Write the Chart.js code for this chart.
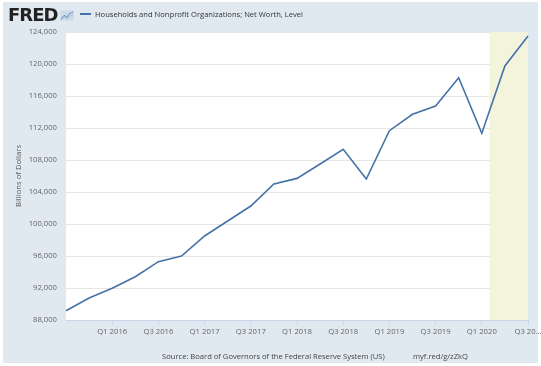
<!DOCTYPE html>
<html>
<head>
<meta charset="utf-8">
<script src="https://cdn.jsdelivr.net/npm/chart.js@4.4.1/dist/chart.umd.min.js"></script>
<style>
  html, body { margin: 0; padding: 0; background: #fff; }
  #wrap {
    position: relative; width: 541px; height: 366px; overflow: hidden;
    font-family: "Open Sans", "DejaVu Sans", sans-serif;
  }
  #frame {
    position: absolute; left: 3px; top: 2px; width: 535px; height: 361px;
    background: #e1e9f0;
  }
  #chart { position: absolute; left: 0; top: 0; }
  #logo {
    position: absolute; left: 8px; top: 4px; font-size: 18px; font-weight: 800;
    color: #222; letter-spacing: -1px; font-family: "DejaVu Sans", sans-serif;
  }
  #icon { position: absolute; left: 60px; top: 10px; }
  #legend {
    position: absolute; left: 80px; top: 9px; font-size: 7.6px; color: #333;
    white-space: nowrap;
  }
  #legend span.swatch {
    display: inline-block; width: 11px; height: 2px; background: #4572a7;
    vertical-align: middle; margin-right: 4px; position: relative; top: -1px;
  }
  #source {
    position: absolute; left: 162px; top: 351px; font-size: 7.6px; color: #444;
    white-space: nowrap;
  }
  #link {
    position: absolute; left: 413px; top: 351px; font-size: 7.6px; color: #444;
  }
</style>
</head>
<body>
<div id="wrap">
  <div id="frame"></div>
  <canvas id="chart" width="541" height="366"></canvas>
  <div id="logo">FRED</div>
  <svg id="icon" width="14" height="11" viewBox="0 0 16 12">
    <rect x="0" y="0" width="16" height="12" fill="#cfdbe7"/>
    <polyline points="1,10 5,6 8,8 11,4 15,2" fill="none" stroke="#7a9cc2" stroke-width="1.2"/>
    <polyline points="1,11 5,8 8,10 11,7 15,5" fill="none" stroke="#a9bfd6" stroke-width="1"/>
  </svg>
  <div id="legend"><span class="swatch"></span>Households and Nonprofit Organizations; Net Worth, Level</div>
  <div id="source">Source: Board of Governors of the Federal Reserve System (US)</div>
  <div id="link">myf.red/g/zZkQ</div>
</div>

<script>
// quarterly observations, billions of dollars
const quarters = [
  "Q3 2015", "Q4 2015",
  "Q1 2016", "Q2 2016", "Q3 2016", "Q4 2016",
  "Q1 2017", "Q2 2017", "Q3 2017", "Q4 2017",
  "Q1 2018", "Q2 2018", "Q3 2018", "Q4 2018",
  "Q1 2019", "Q2 2019", "Q3 2019", "Q4 2019",
  "Q1 2020", "Q2 2020", "Q3 2020"
];
const netWorth = [
  89160, 90750,
  91960, 93410, 95290, 96000,
  98500, 100380, 102250, 105000,
  105700, 107500, 109330, 105620,
  111660, 113710, 114750, 118290,
  111340, 119750, 123500
];
const shownTicks = [
  "Q1 2016", "Q3 2016", "Q1 2017", "Q3 2017", "Q1 2018", "Q3 2018",
  "Q1 2019", "Q3 2019", "Q1 2020", "Q3 2020"
];
const yTicks = [88000, 92000, 96000, 100000, 104000, 108000, 112000, 116000, 120000, 124000];

// recession: starts Feb 2020 (one third into Q1 2020), runs past the last observation
const recessionStart = quarters.indexOf("Q1 2020") + 1 / 3;

const lineColor = "#4572a7";
const tickFont = { family: "'Open Sans', sans-serif", size: 7.7 };

// shaded recession band behind the line
const recessionPlugin = {
  id: "recession",
  beforeDatasetsDraw(chart) {
    const { ctx, chartArea, scales } = chart;
    const x = scales.x;
    const i = Math.floor(recessionStart);
    const x0 = x.getPixelForValue(i) + (x.getPixelForValue(i + 1) - x.getPixelForValue(i)) * (recessionStart - i);
    ctx.save();
    ctx.fillStyle = "#f4f4dc";
    ctx.fillRect(x0, chartArea.top, chartArea.right - x0, chartArea.bottom - chartArea.top);
    ctx.restore();
  }
};

// white plot background
const plotBg = {
  id: "plotBg",
  beforeDraw(chart) {
    const { ctx, chartArea } = chart;
    ctx.save();
    ctx.fillStyle = "#fff";
    ctx.fillRect(chartArea.left, chartArea.top, chartArea.right - chartArea.left, chartArea.bottom - chartArea.top);
    ctx.restore();
  }
};

new Chart(document.getElementById("chart"), {
  type: "line",
  data: {
    labels: quarters,
    datasets: [{
      data: netWorth,
      borderColor: lineColor,
      borderWidth: 1.6,
      pointRadius: 0,
      tension: 0,
      clip: false
    }]
  },
  options: {
    responsive: false,
    animation: false,
    layout: { padding: { top: 32, right: 13, bottom: 26, left: 0 } },
    plugins: { legend: { display: false }, tooltip: { enabled: false } },
    scales: {
      x: {
        offset: false,
        border: { display: true, color: "#ccd6eb" },
        grid: {
          drawOnChartArea: false,
          drawTicks: true,
          tickLength: 5,
          color: (c) => shownTicks.includes(quarters[c.index]) ? "#ccd6eb" : "rgba(0,0,0,0)"
        },
        ticks: {
          autoSkip: false,
          maxRotation: 0,
          padding: 2,
          color: "#666",
          font: tickFont,
          callback: (v, i) => {
            const q = quarters[i];
            if (!shownTicks.includes(q)) return "";
            return i === quarters.length - 1 ? "Q3 20…" : q;
          }
        },
        afterFit: (s) => { s.height = 20; s.paddingLeft = 0; s.paddingRight = 0; }
      },
      y: {
        min: 88000,
        max: 124000,
        border: { display: false },
        grid: { color: "#e6e6e6", drawTicks: false },
        afterBuildTicks: (s) => { s.ticks = yTicks.map((v) => ({ value: v })); },
        ticks: {
          padding: 9,
          color: "#666",
          font: tickFont,
          callback: (v) => v.toLocaleString("en-US")
        },
        title: {
          display: true,
          text: "Billions of Dollars",
          color: "#555",
          font: { family: "'Open Sans', sans-serif", size: 7.7 },
          padding: { top: 14, bottom: 0 }
        },
        afterFit: (s) => { s.width = 66; s.paddingTop = 0; s.paddingBottom = 0; }
      }
    }
  },
  plugins: [plotBg, recessionPlugin]
});
</script>
</body>
</html>
